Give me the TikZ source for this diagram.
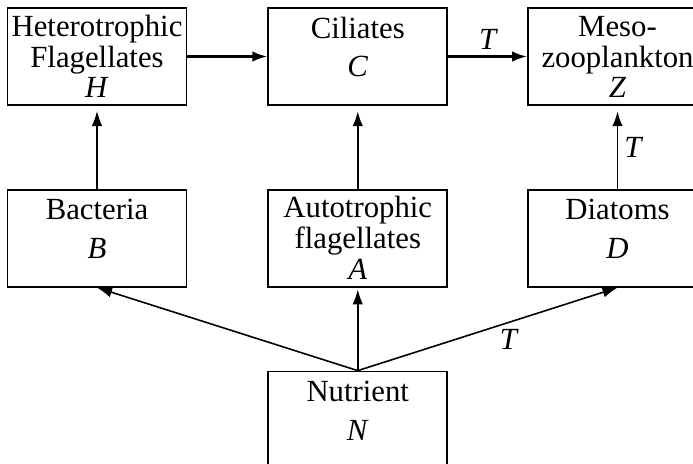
\documentclass[tikz,border=0pt]{standalone}
\usepackage{fontspec}
\setmainfont{Liberation Serif}
\usepackage{tikz}
\usetikzlibrary{positioning,arrows.meta}

\begin{document}
\begin{tikzpicture}[
			box/.style={rectangle, draw=black, line width=1pt, minimum width=3.58cm, minimum height=1.94cm, inner sep=1pt, align=center, font=\fontsize{17.5}{17.6}\selectfont},
			twoline/.style={box, text height=1.2cm, text depth=0.38cm},
			threeline/.style={box, text height=1.76cm, text depth=0.1cm},
			arr/.style={-{Latex[length=0.3cm,width=0.21cm]}},
			lbl/.style={font=\fontsize{17.5}{17.6}\selectfont\itshape},
			node distance=1.66cm and 1.6cm,
		]
			\useasboundingbox (0,0) rectangle (13.86,9.26);
		
			%Nodes
			\node[threeline]	(H) at (1.94,8.13)	{Heterotrophic\\Flagellates\\\textit{H}};
			\node[twoline]		(C)[right=of H]		{Ciliates\\[4.5pt]\textit{C}};
			\node[threeline]	(Z)[right=1.58cm of C]	{Meso-\\zooplankton\\\textit{Z}};
			\node[twoline]		(B)[below=of H]		{Bacteria\\[4.5pt]\textit{B}};
			\node[threeline]	(A)[below=of C]		{Autotrophic\\flagellates\\\textit{A}};
			\node[twoline]		(D)[below=of Z]		{Diatoms\\[4.5pt]\textit{D}};
			\node[twoline]		(N)[below=of A]		{Nutrient\\[4.5pt]\textit{N}};
		
			%Lines
			\draw[arr, line width=1.4pt]	(H) -- (C);
			\draw[arr, line width=1.4pt]	(C) -- (Z) node[lbl, midway, above] {T};
			\draw[arr, line width=0.6pt, shorten >=3pt]	(B.north) -- (H.south);
			\draw[arr, line width=1.1pt, shorten >=3pt]	(A.north) -- (C.south);
			\draw[arr, line width=1.1pt, shorten >=3pt]	(D.north) -- (Z.south) node[lbl, midway, right] {T};
			\draw[arr, line width=0.9pt]	(N.north) -- (B.south);
			\draw[arr, line width=0.9pt, shorten >=1pt]	(N.north) -- (A.south);
			\draw[arr, line width=0.9pt]	(N.north) -- (D.south) node[lbl, pos=0.58, below] {T};
		
		\end{tikzpicture}
\end{document}
